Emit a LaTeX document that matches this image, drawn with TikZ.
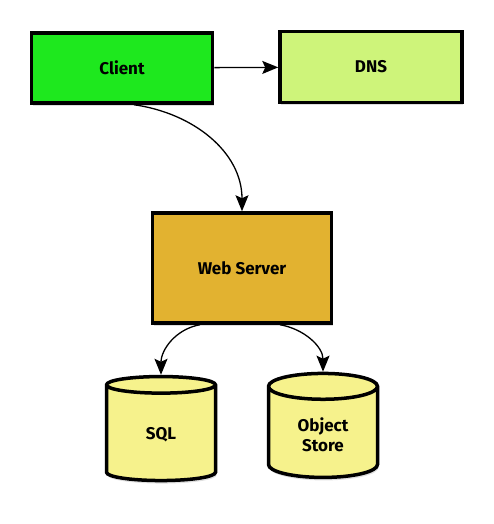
\documentclass[tikz,border=0pt]{standalone}
\usepackage{fontspec}
\setmainfont{Fira Sans}
\usetikzlibrary{shapes.geometric,shadows,arrows.meta}
\definecolor{clientgreen}{RGB}{30,232,30}
\definecolor{dnsgreen}{RGB}{206,244,122}
\definecolor{servergold}{RGB}{226,178,48}
\definecolor{dbyellow}{RGB}{246,242,140}
\begin{document}
\begin{tikzpicture}[x=1pt, y=1pt,
    box/.style={rectangle, draw, line width=3.5pt, fill=#1, font=\bfseries\fontsize{17}{19}\selectfont,
              drop shadow={opacity=0.25, shadow xshift=1pt, shadow yshift=-3pt}},
    db/.style={cylinder, shape border rotate=90, aspect=0.45, draw, line width=3.5pt, fill=dbyellow,
              minimum width=109pt, minimum height=104pt, align=center,
              font=\bfseries\fontsize{17}{20}\selectfont,
              drop shadow={opacity=0.25, shadow xshift=1pt, shadow yshift=-3pt}},
    link/.style={-{Stealth[length=16pt, width=13pt, inset=3pt]}, line width=1.3pt}]
    \useasboundingbox (0,0) rectangle (494,524);
    \node[box=clientgreen, minimum width=181pt, minimum height=70pt] (client) at (122,456) {Client};
    \node[box=dnsgreen, minimum width=182pt, minimum height=71pt] (dns) at (371,457) {DNS};
    \node[box=servergold, minimum width=179pt, minimum height=110pt] (web) at (242,256) {Web Server};
    \node[db] (sql) at (161,89) {SQL};
    \node[db] (store) at (323,89) {Object\\Store};
    % connections
    \draw[link] (client) -- (dns);
    \draw[link] ([xshift=12pt]client.south) to[out=-8, in=90] (web.north);
    \draw[link] ([xshift=-42pt]web.south) to[out=190, in=90] (sql.north);
    \draw[link] ([xshift=38pt]web.south) to[out=-10, in=90] (store.north);
\end{tikzpicture}
\end{document}
